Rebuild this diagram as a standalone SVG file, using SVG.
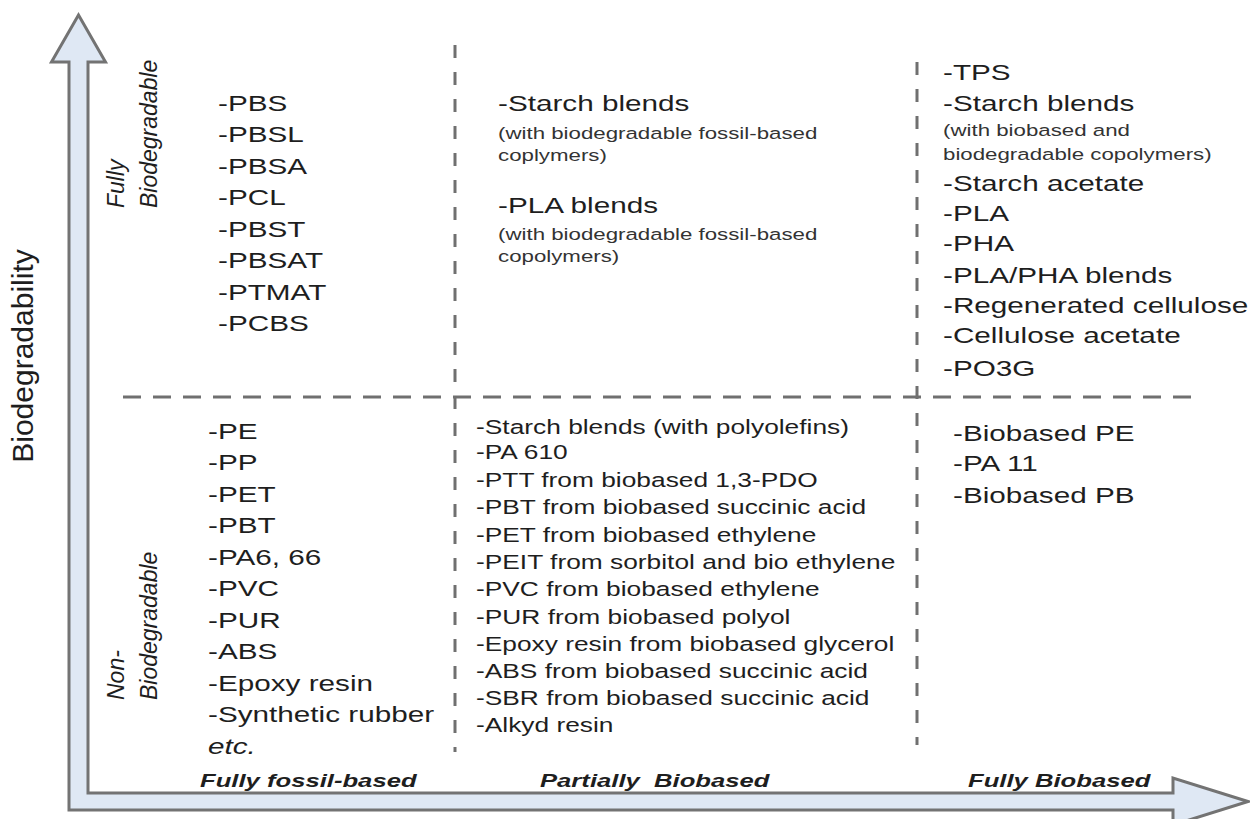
<svg xmlns="http://www.w3.org/2000/svg" width="1250" height="819" viewBox="0 0 1250 819">
<style>
text{font-family:"Liberation Sans",Arial,sans-serif;fill:#1e1e1e}
.big{font-size:22px}
.mid{font-size:19.5px}
.small{font-size:16.5px;fill:#333}
.axis{font-size:19px;font-weight:bold;font-style:italic}
.quad{font-size:23px;font-style:italic}
.dash-h{stroke:#707070;stroke-width:3;stroke-dasharray:18 12;fill:none}
.dash-v{stroke:#707070;stroke-width:3;stroke-dasharray:13 14;fill:none}
</style>
<rect width="1250" height="819" fill="#ffffff"/>
<g id="connectors">
<polygon id="axes" points="78.5,15 105.5,62 88,62 88,793 1173,793 1173,778 1248,801.5 1173,825 1173,810 69,810 69,62 51.5,62" fill="#dfe8f4" stroke="#737373" stroke-width="3" stroke-linejoin="miter"/>
<line class="dash-h" x1="123" y1="397" x2="1200" y2="397"/>
<line class="dash-v" x1="455" y1="45" x2="455" y2="752"/>
<line class="dash-v" x1="917" y1="62" x2="917" y2="745"/>
</g>
<g id="y-axis-label">
<text transform="translate(33,356) rotate(-90)" text-anchor="middle" style="font-size:30px">Biodegradability</text>
</g>
<g id="quad-labels">
<text class="quad" transform="translate(124,208) rotate(-90)">Fully</text>
<text class="quad" transform="translate(157,208) rotate(-90)">Biodegradable</text>
<text class="quad" transform="translate(124,700) rotate(-90)">Non-</text>
<text class="quad" transform="translate(157,700) rotate(-90)">Biodegradable</text>
</g>
<g id="fossil-biodegradable" transform="translate(218,0) scale(1.35,1)">
<text class="big" y="111">-PBS</text>
<text class="big" y="142.5">-PBSL</text>
<text class="big" y="174">-PBSA</text>
<text class="big" y="205.5">-PCL</text>
<text class="big" y="237">-PBST</text>
<text class="big" y="268.5">-PBSAT</text>
<text class="big" y="300">-PTMAT</text>
<text class="big" y="331.5">-PCBS</text>
</g>
<g id="partial-biodegradable" transform="translate(498,0) scale(1.35,1)">
<text class="big" y="111">-Starch blends</text>
<text class="small" y="139">(with biodegradable fossil-based</text>
<text class="small" y="161">coplymers)</text>
<text class="big" y="213">-PLA blends</text>
<text class="small" y="240">(with biodegradable fossil-based</text>
<text class="small" y="262">copolymers)</text>
</g>
<g id="bio-biodegradable" transform="translate(943,0) scale(1.35,1)">
<text class="big" y="80">-TPS</text>
<text class="big" y="111">-Starch blends</text>
<text class="small" y="136">(with biobased and</text>
<text class="small" y="160">biodegradable copolymers)</text>
<text class="big" y="191">-Starch acetate</text>
<text class="big" y="221">-PLA</text>
<text class="big" y="251">-PHA</text>
<text class="big" y="283">-PLA/PHA blends</text>
<text class="big" y="313">-Regenerated cellulose</text>
<text class="big" y="343">-Cellulose acetate</text>
<text class="big" y="376">-PO3G</text>
</g>
<g id="fossil-nonbiodegradable" transform="translate(208,0) scale(1.35,1)">
<text class="big" y="439">-PE</text>
<text class="big" y="470.5">-PP</text>
<text class="big" y="502">-PET</text>
<text class="big" y="533.5">-PBT</text>
<text class="big" y="565">-PA6, 66</text>
<text class="big" y="596.5">-PVC</text>
<text class="big" y="628">-PUR</text>
<text class="big" y="659.5">-ABS</text>
<text class="big" y="691">-Epoxy resin</text>
<text class="big" y="722.5">-Synthetic rubber</text>
<text class="big" y="754" font-style="italic">etc.</text>
</g>
<g id="partial-nonbiodegradable" transform="translate(476,0) scale(1.35,1)">
<text class="mid" y="434">-Starch blends (with polyolefins)</text>
<text class="mid" y="459">-PA 610</text>
<text class="mid" y="487">-PTT from biobased 1,3-PDO</text>
<text class="mid" y="514">-PBT from biobased succinic acid</text>
<text class="mid" y="542">-PET from biobased ethylene</text>
<text class="mid" y="569">-PEIT from sorbitol and bio ethylene</text>
<text class="mid" y="596">-PVC from biobased ethylene</text>
<text class="mid" y="624">-PUR from biobased polyol</text>
<text class="mid" y="651">-Epoxy resin from biobased glycerol</text>
<text class="mid" y="678">-ABS from biobased succinic acid</text>
<text class="mid" y="705">-SBR from biobased succinic acid</text>
<text class="mid" y="732">-Alkyd resin</text>
</g>
<g id="bio-nonbiodegradable" transform="translate(953,0) scale(1.35,1)">
<text class="big" y="441">-Biobased PE</text>
<text class="big" y="471">-PA 11</text>
<text class="big" y="503">-Biobased PB</text>
</g>
<g id="x-axis-labels">
<text class="axis" transform="translate(200,787) scale(1.35,1)">Fully fossil-based</text>
<text class="axis" transform="translate(540,787) scale(1.35,1)" xml:space="preserve">Partially  Biobased</text>
<text class="axis" transform="translate(968,787) scale(1.35,1)">Fully Biobased</text>
</g>
</svg>
